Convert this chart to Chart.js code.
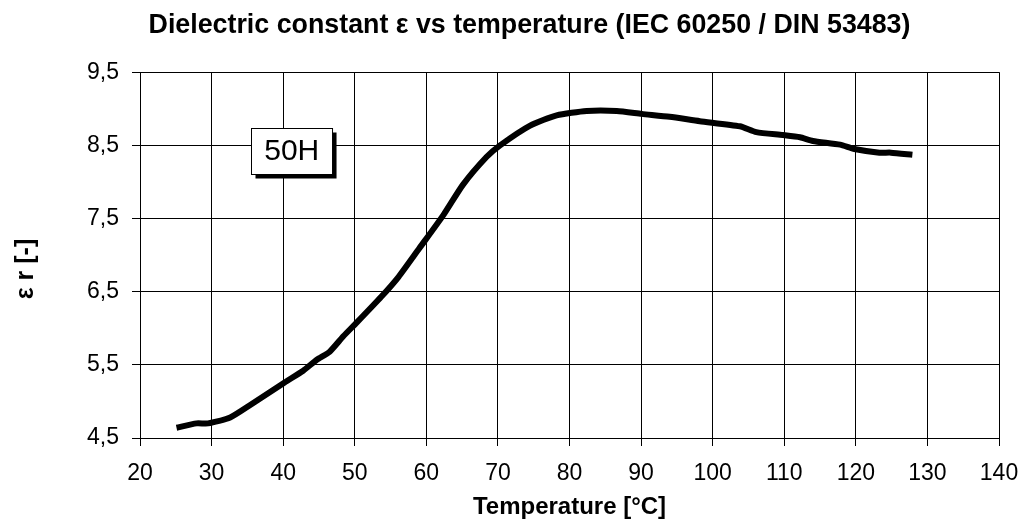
<!DOCTYPE html>
<html lang="en">
<head>
    <meta charset="UTF-8">
    <title>Dielectric constant vs temperature</title>
    <style>
        html, body { margin: 0; padding: 0; background: #fff; }
        #wrap { width: 1035px; height: 529px; }
    </style>
</head>
<body>
    <div id="wrap"><canvas id="chart" width="1035" height="529"></canvas></div>
    <script src="https://cdn.jsdelivr.net/npm/chart.js@4/dist/chart.umd.min.js"></script>
    <script>
        // values
        const temps = [25.1, 27.9, 29.5, 32.6, 35.4, 40.2, 42.8, 44.7, 46.5, 48.4, 50.3, 53.7, 56.1, 59.0,
                       62.4, 65.1, 68.4, 70.3, 74.5, 78.2, 82.4, 86.6, 90.1, 94.0, 98.2, 103.8, 106.1,
                       109.8, 112.2, 114.0, 117.8, 119.8, 123.3, 124.9, 127.9];
        const epsR = [4.64, 4.70, 4.70, 4.78, 4.95, 5.26, 5.42, 5.57, 5.68, 5.89, 6.08, 6.43, 6.70, 7.09,
                      7.55, 7.96, 8.34, 8.50, 8.77, 8.91, 8.97, 8.97, 8.93, 8.89, 8.83, 8.76, 8.68,
                      8.64, 8.61, 8.56, 8.51, 8.45, 8.40, 8.40, 8.37];
        const xTicks = [20, 140, 10];   // min, max, step
        const yTicks = [4.5, 9.5, 1];
        const seriesLabel = '50H';
        const seriesLabelAt = [41.2, 8.42];

        const FONT = "'Liberation Sans', Arial, sans-serif";

        // boxed series label with a drop shadow
        const boxLabel = {
            id: 'boxLabel',
            afterDatasetsDraw(chart) {
                const ctx = chart.ctx;
                const cx = chart.scales.x.getPixelForValue(seriesLabelAt[0]);
                const cy = chart.scales.y.getPixelForValue(seriesLabelAt[1]);
                ctx.save();
                ctx.font = '30px ' + FONT;
                const w = ctx.measureText(seriesLabel).width + 26;
                const h = 46;
                const x = Math.round(cx - w / 2) + 0.5, y = Math.round(cy - h / 2) + 0.5;
                ctx.fillStyle = '#000';
                ctx.fillRect(x + 4, y + 4, w, h);
                ctx.fillStyle = '#fff';
                ctx.fillRect(x, y, w, h);
                ctx.strokeStyle = '#000';
                ctx.lineWidth = 1;
                ctx.strokeRect(x, y, w, h);
                ctx.fillStyle = '#000';
                ctx.textAlign = 'center';
                ctx.textBaseline = 'middle';
                ctx.fillText(seriesLabel, cx, cy + 1);
                ctx.restore();
            }
        };

        const fmt = v => v.toFixed(1).replace('.', ',');

        new Chart(document.getElementById('chart'), {
            type: 'line',
            data: {
                datasets: [{
                    label: seriesLabel,
                    data: temps.map((t, i) => ({ x: t, y: epsR[i] })),
                    borderColor: '#000',
                    borderWidth: 6,
                    pointRadius: 0,
                    tension: 0.2,
                    fill: false
                }]
            },
            options: {
                responsive: false,
                animation: false,
                // left padding shifts the main title to the right like the original
                layout: { padding: { left: 60, right: 36, top: 0, bottom: 0 } },
                plugins: {
                    legend: { display: false },
                    tooltip: { enabled: false },
                    title: {
                        display: true,
                        text: 'Dielectric constant \u03b5 vs temperature (IEC 60250 / DIN 53483)',
                        color: '#000',
                        font: { family: FONT, size: 26.8, weight: 'bold' },
                        padding: { top: 10, bottom: 30 }
                    }
                },
                scales: {
                    x: {
                        type: 'linear',
                        min: xTicks[0], max: xTicks[1],
                        ticks: {
                            stepSize: xTicks[2],
                            color: '#000',
                            padding: 14,
                            maxRotation: 0,
                            font: { family: FONT, size: 23 }
                        },
                        grid: { color: '#000', lineWidth: 1, tickLength: 8, tickColor: '#000' },
                        border: { color: '#000', width: 1 },
                        title: {
                            display: true,
                            text: 'Temperature [\u00b0C]',
                            color: '#000',
                            font: { family: FONT, size: 24, weight: 'bold' },
                            padding: { top: 4, bottom: 7 }
                        },
                        afterFit(scale) { scale.height = 91; }
                    },
                    y: {
                        type: 'linear',
                        min: yTicks[0], max: yTicks[1],
                        ticks: {
                            stepSize: yTicks[2],
                            color: '#000',
                            padding: 13,
                            callback: v => fmt(v),
                            font: { family: FONT, size: 23 }
                        },
                        grid: { color: '#000', lineWidth: 1, tickLength: 8, tickColor: '#000' },
                        border: { color: '#000', width: 1 },
                        title: {
                            display: true,
                            // trailing spaces push the rotated label a little lower, as in the original
                            text: '\u03b5 r [-]    ',
                            color: '#000',
                            font: { family: FONT, size: 25, weight: 'bold' },
                            padding: { top: -49, bottom: 0 }
                        },
                        afterFit(scale) { scale.width = 80; }
                    }
                }
            },
            plugins: [boxLabel]
        });
    </script>
</body>
</html>
